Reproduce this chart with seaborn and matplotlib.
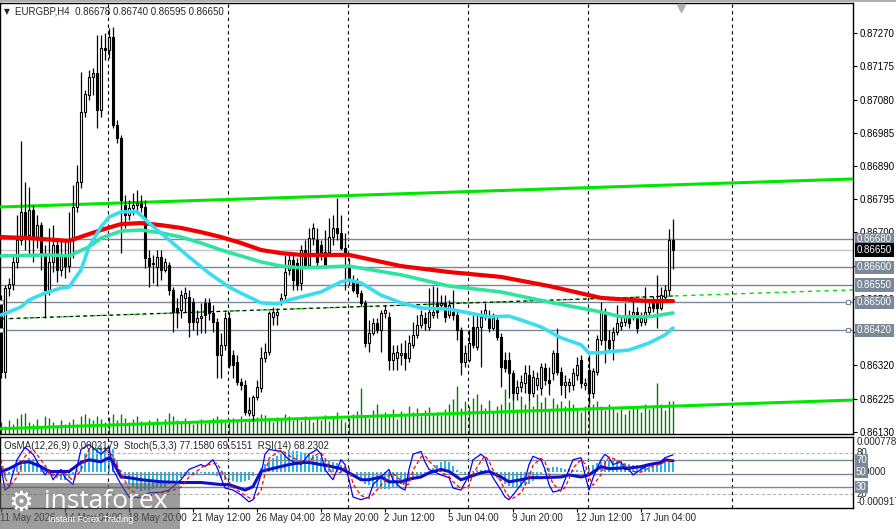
import numpy as np
import matplotlib
matplotlib.use('Agg')
import matplotlib.pyplot as plt
import matplotlib.transforms as mtransforms
from matplotlib.patches import Rectangle
import seaborn as sns

# EURGBP H4 candles, bar 0 = 11 May 2026 12:00
bar_open = [
    0.86507, 0.86301, 0.86541, 0.86553, 0.86616, 0.86679, 0.86759, 0.86693, 0.86764, 0.86684,
    0.86721, 0.86636, 0.86536, 0.86616, 0.86664, 0.86593, 0.86636, 0.86604, 0.86679, 0.86773,
    0.86844, 0.87044, 0.87093, 0.87144, 0.87156, 0.87050, 0.87227, 0.87221, 0.87259, 0.87007,
    0.86970, 0.86779, 0.86750, 0.86770, 0.86779, 0.86784, 0.86773, 0.86627, 0.86610, 0.86601,
    0.86630, 0.86593, 0.86607, 0.86536, 0.86484, 0.86479, 0.86513, 0.86516, 0.86501, 0.86444,
    0.86456, 0.86499, 0.86499, 0.86470, 0.86444, 0.86350, 0.86379, 0.86456, 0.86350, 0.86330,
    0.86273, 0.86264, 0.86184, 0.86179, 0.86230, 0.86256, 0.86341, 0.86359, 0.86459, 0.86464,
    0.86499, 0.86521, 0.86593, 0.86621, 0.86613, 0.86556, 0.86650, 0.86607, 0.86684, 0.86679,
    0.86664, 0.86644, 0.86644, 0.86687, 0.86713, 0.86699, 0.86656, 0.86607, 0.86564, 0.86556,
    0.86527, 0.86499, 0.86384, 0.86413, 0.86441, 0.86421, 0.86470, 0.86459, 0.86336, 0.86341,
    0.86350, 0.86356, 0.86341, 0.86379, 0.86407, 0.86436, 0.86456, 0.86430, 0.86464, 0.86499,
    0.86493, 0.86499, 0.86464, 0.86473, 0.86464, 0.86421, 0.86330, 0.86336, 0.86430, 0.86373,
    0.86430, 0.86459, 0.86456, 0.86427, 0.86450, 0.86401, 0.86336, 0.86336, 0.86299, 0.86241,
    0.86259, 0.86270, 0.86293, 0.86241, 0.86264, 0.86256, 0.86313, 0.86279, 0.86299, 0.86356,
    0.86301, 0.86264, 0.86264, 0.86264, 0.86293, 0.86336, 0.86264, 0.86307, 0.86241, 0.86301,
    0.86393, 0.86473, 0.86393, 0.86393, 0.86416, 0.86433, 0.86444, 0.86464, 0.86459, 0.86473,
    0.86444, 0.86444, 0.86473, 0.86507, 0.86507, 0.86484, 0.86516, 0.86536, 0.86678]
bar_close = [
    0.86301, 0.86541, 0.86553, 0.86616, 0.86679, 0.86759, 0.86693, 0.86764, 0.86684, 0.86721,
    0.86636, 0.86536, 0.86616, 0.86664, 0.86593, 0.86636, 0.86604, 0.86679, 0.86773, 0.86844,
    0.87044, 0.87096, 0.87144, 0.87156, 0.87050, 0.87227, 0.87221, 0.87259, 0.87007, 0.86970,
    0.86793, 0.86750, 0.86770, 0.86779, 0.86784, 0.86773, 0.86627, 0.86604, 0.86613, 0.86630,
    0.86593, 0.86616, 0.86536, 0.86473, 0.86473, 0.86521, 0.86527, 0.86444, 0.86444, 0.86456,
    0.86461, 0.86464, 0.86470, 0.86444, 0.86350, 0.86379, 0.86456, 0.86321, 0.86321, 0.86273,
    0.86264, 0.86187, 0.86193, 0.86230, 0.86259, 0.86341, 0.86359, 0.86470, 0.86473, 0.86473,
    0.86513, 0.86587, 0.86621, 0.86564, 0.86550, 0.86650, 0.86607, 0.86684, 0.86713, 0.86616,
    0.86636, 0.86607, 0.86687, 0.86713, 0.86699, 0.86656, 0.86636, 0.86564, 0.86536, 0.86527,
    0.86499, 0.86384, 0.86413, 0.86441, 0.86421, 0.86470, 0.86479, 0.86336, 0.86356, 0.86359,
    0.86356, 0.86341, 0.86384, 0.86407, 0.86436, 0.86464, 0.86441, 0.86473, 0.86473, 0.86473,
    0.86499, 0.86459, 0.86493, 0.86464, 0.86421, 0.86330, 0.86356, 0.86384, 0.86379, 0.86430,
    0.86459, 0.86479, 0.86427, 0.86456, 0.86401, 0.86316, 0.86313, 0.86299, 0.86241, 0.86259,
    0.86273, 0.86299, 0.86241, 0.86287, 0.86284, 0.86316, 0.86279, 0.86270, 0.86356, 0.86301,
    0.86264, 0.86273, 0.86273, 0.86299, 0.86321, 0.86270, 0.86270, 0.86241, 0.86304, 0.86396,
    0.86473, 0.86393, 0.86370, 0.86416, 0.86441, 0.86444, 0.86464, 0.86441, 0.86473, 0.86427,
    0.86456, 0.86473, 0.86487, 0.86484, 0.86484, 0.86521, 0.86536, 0.86679, 0.86650]
bar_high = [
    0.86521, 0.86550, 0.86570, 0.86636, 0.86750, 0.86961, 0.86844, 0.86830, 0.86779, 0.86750,
    0.86730, 0.86664, 0.86713, 0.86721, 0.86679, 0.86679, 0.86679, 0.86759, 0.86836, 0.86893,
    0.87159, 0.87107, 0.87164, 0.87170, 0.87264, 0.87264, 0.87270, 0.87284, 0.87287, 0.87021,
    0.86979, 0.86807, 0.86793, 0.86813, 0.86821, 0.86807, 0.86793, 0.86650, 0.86636, 0.86650,
    0.86650, 0.86627, 0.86616, 0.86544, 0.86513, 0.86536, 0.86544, 0.86536, 0.86513, 0.86479,
    0.86499, 0.86513, 0.86513, 0.86493, 0.86456, 0.86413, 0.86473, 0.86473, 0.86364, 0.86350,
    0.86284, 0.86279, 0.86230, 0.86236, 0.86279, 0.86373, 0.86384, 0.86476, 0.86487, 0.86484,
    0.86527, 0.86636, 0.86644, 0.86641, 0.86627, 0.86664, 0.86679, 0.86713, 0.86727, 0.86713,
    0.86679, 0.86707, 0.86741, 0.86750, 0.86799, 0.86750, 0.86699, 0.86627, 0.86579, 0.86570,
    0.86536, 0.86507, 0.86450, 0.86456, 0.86456, 0.86479, 0.86493, 0.86473, 0.86379, 0.86379,
    0.86384, 0.86393, 0.86407, 0.86444, 0.86464, 0.86479, 0.86473, 0.86541, 0.86547, 0.86544,
    0.86521, 0.86521, 0.86507, 0.86536, 0.86479, 0.86430, 0.86379, 0.86421, 0.86464, 0.86464,
    0.86479, 0.86499, 0.86479, 0.86470, 0.86464, 0.86413, 0.86359, 0.86359, 0.86307, 0.86279,
    0.86293, 0.86321, 0.86321, 0.86307, 0.86301, 0.86327, 0.86327, 0.86316, 0.86364, 0.86427,
    0.86316, 0.86293, 0.86284, 0.86313, 0.86344, 0.86350, 0.86284, 0.86350, 0.86313, 0.86407,
    0.86501, 0.86484, 0.86421, 0.86430, 0.86493, 0.86464, 0.86499, 0.86479, 0.86507, 0.86487,
    0.86473, 0.86544, 0.86507, 0.86519, 0.86579, 0.86544, 0.86550, 0.86710, 0.86740]
bar_low = [
    0.86284, 0.86284, 0.86519, 0.86536, 0.86599, 0.86664, 0.86650, 0.86636, 0.86616, 0.86656,
    0.86593, 0.86456, 0.86521, 0.86587, 0.86559, 0.86576, 0.86570, 0.86587, 0.86627, 0.86759,
    0.86827, 0.87030, 0.87079, 0.87093, 0.86999, 0.87030, 0.87193, 0.87199, 0.86999, 0.86956,
    0.86641, 0.86713, 0.86736, 0.86750, 0.86756, 0.86759, 0.86599, 0.86544, 0.86556, 0.86547,
    0.86564, 0.86587, 0.86521, 0.86416, 0.86427, 0.86456, 0.86473, 0.86401, 0.86421, 0.86407,
    0.86413, 0.86413, 0.86450, 0.86416, 0.86284, 0.86284, 0.86364, 0.86313, 0.86284, 0.86264,
    0.86250, 0.86179, 0.86176, 0.86161, 0.86221, 0.86244, 0.86330, 0.86350, 0.86436, 0.86436,
    0.86493, 0.86507, 0.86579, 0.86536, 0.86536, 0.86536, 0.86599, 0.86599, 0.86664, 0.86604,
    0.86621, 0.86599, 0.86636, 0.86664, 0.86679, 0.86650, 0.86536, 0.86550, 0.86530, 0.86516,
    0.86490, 0.86373, 0.86359, 0.86407, 0.86413, 0.86359, 0.86456, 0.86307, 0.86307, 0.86307,
    0.86321, 0.86307, 0.86330, 0.86370, 0.86399, 0.86427, 0.86421, 0.86421, 0.86456, 0.86456,
    0.86484, 0.86444, 0.86456, 0.86450, 0.86393, 0.86293, 0.86316, 0.86330, 0.86370, 0.86364,
    0.86316, 0.86450, 0.86416, 0.86421, 0.86393, 0.86259, 0.86301, 0.86227, 0.86221, 0.86221,
    0.86244, 0.86241, 0.86221, 0.86230, 0.86250, 0.86236, 0.86264, 0.86236, 0.86279, 0.86293,
    0.86236, 0.86227, 0.86244, 0.86250, 0.86279, 0.86256, 0.86250, 0.86213, 0.86227, 0.86293,
    0.86379, 0.86327, 0.86359, 0.86336, 0.86407, 0.86421, 0.86433, 0.86427, 0.86450, 0.86413,
    0.86433, 0.86436, 0.86464, 0.86473, 0.86427, 0.86479, 0.86507, 0.86521, 0.86595]
tick_volume = [
    1200, 800, 1400, 1000, 1600, 2000, 2100, 1200, 1000, 1500, 800, 1800, 1600, 1200, 900,
    1400, 1000, 1200, 1500, 1000, 1800, 2000, 1600, 1400, 1800, 1500, 1200, 1700, 2000, 1400,
    2000, 1600, 1200, 1500, 1800, 1300, 1000, 1400, 1200, 1600, 900, 1500, 2100, 1800, 1400,
    1100, 1600, 1300, 1000, 1200, 1500, 1100, 1400, 1600, 1800, 1500, 1200, 1300, 1600, 1400,
    1800, 1200, 1600, 1500, 1700, 2000, 1900, 1400, 1200, 1700, 1500, 2000, 1800, 1400, 1600,
    1300, 1800, 1500, 1200, 1600, 1400, 1900, 1300, 1700, 2200, 1500, 1200, 1600, 2000, 2300,
    4600, 1800, 1600, 2400, 3000, 2000, 2200, 1800, 2500, 1500, 2300, 2000, 2800, 2200, 2600,
    1800, 2400, 2700, 2000, 2200, 1900, 2500, 3000, 3500, 4800, 2600, 3300, 2800, 3600, 4000,
    3000, 2600, 3400, 2200, 2800, 3000, 4500, 3200, 4000, 2500, 3800, 3000, 3500, 2800, 4000,
    3200, 3700, 2500, 3600, 3000, 3300, 2800, 3400, 3000, 2600, 2200, 2800, 3500, 3000, 3300,
    2800, 2400, 3000, 2600, 2200, 2500, 2000, 2400, 2800, 2600, 2200, 3000, 2500, 2800, 5100,
    3000, 2400, 3300, 3300]

# moving averages at some bars
ma_red_bars = [0, 7, 17, 25, 30, 35, 40, 45, 50, 55, 60, 65, 70, 75, 87, 100, 112, 125, 137, 150, 162, 168]
ma_red = [0.86687, 0.86684, 0.86676, 0.86707, 0.86724, 0.86727, 0.86721, 0.86713, 0.86701, 0.86687, 0.86670,
          0.86650, 0.86641, 0.86636, 0.86636, 0.86604, 0.86587, 0.86573, 0.86547, 0.86513, 0.86504, 0.86504]
ma_teal_bars = [0, 12, 17, 22, 25, 30, 35, 40, 45, 50, 55, 60, 65, 70, 75, 87, 100, 112, 125, 137, 150, 155, 162, 168]
ma_teal = [0.86633, 0.86636, 0.86633, 0.86659, 0.86684, 0.86704, 0.86707, 0.86699, 0.86687, 0.86670, 0.86650,
           0.86633, 0.86616, 0.86604, 0.86599, 0.86604, 0.86579, 0.86547, 0.86530, 0.86501, 0.86473, 0.86459,
           0.86459, 0.86470]
ma_cyan_bars = [0, 2, 5, 7, 11, 15, 17, 20, 22, 25, 27, 30, 34, 37, 42, 47, 52, 57, 61, 65, 69, 72, 75, 80,
                85, 87, 90, 95, 100, 105, 112, 117, 122, 127, 130, 135, 140, 145, 147, 150, 152, 157, 162, 166, 168]
ma_cyan = [0.86464, 0.86473, 0.86487, 0.86507, 0.86527, 0.86541, 0.86544, 0.86593, 0.86659, 0.86716, 0.86744,
           0.86759, 0.86759, 0.86727, 0.86679, 0.86630, 0.86584, 0.86544, 0.86521, 0.86499, 0.86496, 0.86507,
           0.86516, 0.86530, 0.86559, 0.86564, 0.86556, 0.86521, 0.86499, 0.86484, 0.86481, 0.86470, 0.86459,
           0.86461, 0.86450, 0.86430, 0.86399, 0.86379, 0.86356, 0.86356, 0.86359, 0.86364, 0.86384, 0.86407,
           0.86427]

# channel lines (price at left and right edge)
channel_bars = [-0.25, 213]
channel_top = [0.86773, 0.86853]
channel_mid = [0.86453, 0.86536]
channel_bottom = [0.86139, 0.86221]

level_prices = [0.86680, 0.86600, 0.86550, 0.86500, 0.86420]
bid_price = 0.86650

# OsMA(12,26,9), one value per bar
osma = [
    -0.00010, -0.00015, -0.00008, 0.00005, 0.00015, 0.00025, 0.00030, 0.00035, 0.00032, 0.00028,
    0.00018, 0.00008, -0.00005, -0.00010, -0.00015, -0.00018, -0.00020, -0.00015, -0.00008, 0.00005,
    0.00030, 0.00045, 0.00055, 0.00060, 0.00058, 0.00062, 0.00060, 0.00058, 0.00055, 0.00030,
    0.00005, -0.00015, -0.00030, -0.00038, -0.00042, -0.00045, -0.00043, -0.00045, -0.00040, -0.00038,
    -0.00036, -0.00035, -0.00030, -0.00025, -0.00022, -0.00015, -0.00010, -0.00008, -0.00005, -0.00004,
    -0.00003, -0.00004, -0.00005, -0.00006, -0.00010, -0.00015, -0.00018, -0.00020, -0.00022, -0.00024,
    -0.00025, -0.00022, -0.00018, -0.00010, 0.00000, 0.00010, 0.00020, 0.00028, 0.00035, 0.00040,
    0.00045, 0.00048, 0.00050, 0.00052, 0.00050, 0.00048, 0.00047, 0.00045, 0.00042, 0.00040,
    0.00035, 0.00030, 0.00028, 0.00025, 0.00022, 0.00018, 0.00012, 0.00005, 0.00000, -0.00010,
    -0.00020, -0.00028, -0.00032, -0.00035, -0.00038, -0.00040, -0.00042, -0.00040, -0.00038, -0.00035,
    -0.00030, -0.00028, -0.00025, -0.00020, -0.00015, -0.00012, -0.00010, -0.00008, 0.00010, 0.00018,
    0.00025, 0.00028, 0.00025, 0.00015, 0.00005, -0.00003, -0.00005, -0.00003, 0.00002, 0.00005,
    0.00006, 0.00004, 0.00000, -0.00008, -0.00015, -0.00022, -0.00028, -0.00033, -0.00036, -0.00036,
    -0.00035, -0.00032, -0.00028, -0.00022, -0.00015, -0.00008, 0.00005, 0.00010, 0.00012, 0.00012,
    0.00010, 0.00008, 0.00008, 0.00006, 0.00005, 0.00003, 0.00005, 0.00010, 0.00018, 0.00022,
    0.00025, 0.00028, 0.00028, 0.00027, 0.00026, 0.00024, 0.00022, 0.00020, 0.00018, 0.00018,
    0.00017, 0.00018, 0.00018, 0.00019, 0.00020, 0.00024, 0.00027, 0.00030, 0.00022]

# Stochastic(5,3,3) and RSI(14), read at some bars
stoch_bars = [0, 1, 2, 4, 6, 8, 11, 12, 13, 15, 16, 18, 20, 22, 25, 27, 28, 30, 32, 35, 37, 40, 42, 45, 47,
              50, 51, 53, 54, 56, 58, 60, 62, 63, 65, 66, 67, 70, 72, 75, 77, 79, 80, 81, 82, 83, 85, 86,
              87, 88, 90, 92, 93, 95, 97, 98, 100, 101, 102, 103, 105, 106, 107, 110, 112, 113, 115, 117,
              118, 120, 121, 122, 123, 125, 126, 127, 128, 130, 131, 132, 133, 135, 136, 137, 138, 140,
              141, 142, 143, 145, 146, 147, 148, 150, 151, 152, 153, 155, 156, 157, 158, 160, 161, 162,
              163, 165, 166, 168]
stoch_main = [60, 26, 30, 70, 88, 78, 48, 56, 41, 56, 44, 34, 85, 92, 78, 89, 56, 34, 16, 15, 22, 23, 26, 41,
              56, 63, 60, 70, 59, 29, 26, 19, 9, 12, 48, 78, 85, 82, 70, 63, 78, 85, 78, 56, 48, 41, 70, 63,
              41, 16, 12, 16, 34, 45, 56, 41, 29, 26, 56, 78, 82, 67, 56, 48, 44, 29, 26, 48, 70, 78, 73, 56,
              44, 26, 16, 12, 19, 34, 41, 63, 75, 70, 56, 34, 23, 26, 41, 56, 70, 73, 48, 26, 44, 70, 78, 73,
              63, 67, 56, 56, 48, 56, 59, 63, 63, 67, 73, 77.16]
stoch_signal = [70, 45, 30, 45, 75, 85, 62, 52, 48, 48, 50, 40, 55, 85, 85, 82, 75, 50, 28, 16, 17, 22, 24, 30,
                45, 58, 62, 64, 65, 45, 30, 22, 15, 12, 25, 50, 72, 84, 76, 67, 68, 78, 80, 72, 58, 48, 52, 60,
                58, 35, 18, 14, 20, 33, 48, 50, 40, 32, 35, 55, 74, 76, 68, 52, 46, 38, 28, 32, 50, 68, 76, 68,
                55, 38, 25, 16, 14, 22, 32, 45, 62, 72, 67, 50, 35, 24, 30, 42, 58, 70, 64, 45, 33, 48, 65, 74,
                72, 66, 62, 58, 53, 52, 55, 58, 61, 64, 67, 69.52]
rsi_bars = [0, 2, 5, 7, 10, 12, 15, 17, 20, 22, 25, 27, 28, 30, 32, 35, 40, 45, 50, 55, 57, 61, 63, 65, 67,
            72, 75, 77, 80, 82, 85, 87, 90, 92, 95, 97, 100, 102, 105, 107, 110, 112, 115, 117, 120, 122,
            125, 127, 130, 132, 135, 140, 142, 145, 147, 150, 152, 155, 157, 160, 162, 165, 166, 168]
rsi = [53, 57, 66, 67, 60, 53, 53, 53, 66, 70, 67, 73, 67, 45, 44, 41, 38, 37, 37, 34, 34, 26, 31, 53, 56,
       63, 66, 66, 63, 61, 57, 51, 41, 41, 45, 38, 38, 42, 45, 51, 56, 53, 41, 45, 51, 53, 45, 38, 41, 44,
       44, 45, 48, 45, 48, 60, 57, 58, 58, 60, 63, 66, 70, 68.23]

# time axis labels (bar index, text)
label_bars = [0, 16, 32, 48, 64, 80, 96, 112, 128, 144, 160]
label_text = ['11 May 2026', '14 May 04:00', '18 May 20:00', '21 May 12:00', '26 May 04:00', '28 May 20:00',
              '2 Jun 12:00', '5 Jun 04:00', '9 Jun 20:00', '12 Jun 12:00', '17 Jun 04:00']
grid_bars = [26.75, 56.75, 86.75, 116.75, 146.75, 182.75]

W, H = 896, 529
SLATE = '#7b8898'
FONT = 7


def px_x(x):
    return x / W


def px_y(y):
    return 1 - y / H


def draw_candles(ax, o, h, l, c):
    o, h, l, c = map(np.asarray, (o, h, l, c))
    x = np.arange(len(o))
    ax.vlines(x, l, h, color='black', lw=0.9, zorder=4)
    up = c >= o
    lo = np.minimum(o, c)
    hgt = np.maximum(np.abs(c - o), 0.000012)
    ax.bar(x[up], hgt[up], bottom=lo[up], width=0.6, color='white', edgecolor='black', lw=0.8, zorder=5)
    ax.bar(x[~up], hgt[~up], bottom=lo[~up], width=0.6, color='black', edgecolor='black', lw=0.8, zorder=5)


def price_box(ax, price, text, fc, tc='white'):
    trans = mtransforms.blended_transform_factory(ax.transAxes, ax.transData)
    ax.text(1.0045, price, text, transform=trans, ha='left', va='center', fontsize=FONT, color=tc,
            bbox=dict(boxstyle='square,pad=0.2', fc=fc, ec='none'), clip_on=False, zorder=30)


sns.set_style('white')
plt.rcParams['font.family'] = ['Liberation Sans', 'DejaVu Sans']

fig = plt.figure(figsize=(W / 100, H / 100), dpi=100)
ax = fig.add_axes([0, px_y(434), px_x(853), (434 - 3) / H])
ind = fig.add_axes([0, px_y(508), px_x(853), (508 - 437) / H])

# ---- main price panel ----
vax = ax.twinx()
vax.vlines(np.arange(len(tick_volume)), 0, tick_volume, color='#008000', lw=1)
vax.set_ylim(0, 43100)
vax.set_yticks([])
ax.set_zorder(vax.get_zorder() + 1)
ax.patch.set_visible(False)

for gb in grid_bars:
    ax.axvline(gb, color='black', ls=(0, (3, 3)), lw=0.8, zorder=1)

for p in level_prices:
    ax.axhline(p, color=SLATE, lw=1, zorder=2)
ax.axhline(bid_price, color='#c4c4c4', lw=1, zorder=2)
for p in [0.86500, 0.86420]:
    ax.plot([0, 211.7], [p, p], ls='none', marker='s', ms=3.5, mfc='white', mec=SLATE, mew=0.8,
            clip_on=False, zorder=6)

sns.lineplot(x=channel_bars, y=channel_top, ax=ax, color='#00e600', linewidth=2.2, zorder=3)
sns.lineplot(x=channel_bars, y=channel_bottom, ax=ax, color='#00e600', linewidth=2.2, zorder=3)
ax.plot(channel_bars, channel_mid, color='#00dd00', lw=1, ls=(0, (3, 3)), zorder=3)
ax.plot([-0.25, 168], np.interp([-0.25, 168], channel_bars, channel_mid), color='black', lw=0.8,
        ls=(3, (3, 3)), zorder=3)

sns.lineplot(x=ma_red_bars, y=ma_red, ax=ax, color='#f00000', linewidth=3, zorder=6)
sns.lineplot(x=ma_teal_bars, y=ma_teal, ax=ax, color='#2fe3a1', linewidth=2.6, zorder=6)
sns.lineplot(x=ma_cyan_bars, y=ma_cyan, ax=ax, color='#3adcef', linewidth=2.6, zorder=6)

draw_candles(ax, bar_open, bar_high, bar_low, bar_close)

ax.set_xlim(-0.25, 213)
ax.set_ylim(0.86124, 0.87356)
ax.set_xticks([])
ax.yaxis.tick_right()
yt = [0.87270 - k * 0.00095 for k in range(13)]
ax.set_yticks(yt)
ax.set_yticklabels(['%.5f' % v for v in yt])
ax.tick_params(axis='y', direction='out', length=3, width=0.8, pad=2, labelsize=FONT, colors='black')
ax.set_ylabel('')
for s in ax.spines.values():
    s.set_color('black')
    s.set_linewidth(1)
for s in vax.spines.values():
    s.set_visible(False)

for p in level_prices:
    price_box(ax, p, '%.5f' % p, SLATE)
price_box(ax, bid_price, '%.5f' % bid_price, 'black')

# ---- indicator panel ----
oax = ind.twinx()
oax.bar(np.arange(len(osma)), osma, width=0.7, color='#29b6e8', lw=0)
oax.set_ylim(-0.00087, 0.00085)
oax.set_yticks([])
ind.set_zorder(oax.get_zorder() + 1)
ind.patch.set_visible(False)
for s in oax.spines.values():
    s.set_visible(False)

for gb in grid_bars:
    ind.axvline(gb, color='black', ls=(0, (3, 3)), lw=0.8, zorder=1)
for lv in [80, 20]:
    ind.axhline(lv, color='#b4b4b4', lw=0.8, ls=(0, (3, 2)), zorder=1)
for lv in [70, 50, 30]:
    ind.axhline(lv, color=SLATE, lw=1, zorder=1)

sns.lineplot(x=rsi_bars, y=rsi, ax=ind, color='#1010c8', linewidth=2.2, zorder=4)
sns.lineplot(x=stoch_bars, y=stoch_main, ax=ind, color='#0000ff', linewidth=0.9, zorder=5)
ind.plot(stoch_bars, stoch_signal, color='#ff0000', lw=0.9, ls=(0, (3, 2)), zorder=5)

ind.set_xlim(-0.25, 213)
ind.set_ylim(0, 103)
ind.set_yticks([])
ind.set_ylabel('')
ind.set_xticks(label_bars)
ind.set_xticklabels([])
ind.tick_params(axis='x', direction='out', length=3, width=0.8, bottom=True, colors='black')
for s in ind.spines.values():
    s.set_color('black')
    s.set_linewidth(1)

ind.text(0.005, 0.88, 'OsMA(12,26,9) 0.0002179  Stoch(5,3,3) 77.1580 69.5151  RSI(14) 68.2302',
         transform=ind.transAxes, fontsize=FONT, va='center', ha='left', zorder=8)

# right side labels of the indicator window
fig.text(px_x(857), px_y(442), '0.0007782', fontsize=FONT, va='center', ha='left')
fig.text(px_x(857), px_y(453), '80', fontsize=FONT, va='center', ha='left')
fig.text(px_x(857), px_y(472), '0.0000', fontsize=FONT, va='center', ha='left')
fig.text(px_x(857), px_y(494), '20', fontsize=FONT, va='center', ha='left')
fig.text(px_x(857), px_y(502), '-0.000917', fontsize=FONT, va='center', ha='left')
for lv, yy in [(70, 460), (50, 472), (30, 487)]:
    fig.text(px_x(856), px_y(yy), str(lv), fontsize=FONT, va='center', ha='left', color='white',
             bbox=dict(boxstyle='square,pad=0.15', fc=SLATE, ec='none'), zorder=6)

# time labels
for b, t in zip(label_bars, label_text):
    fig.text(px_x(4 * b), px_y(518), t, fontsize=FONT, va='center', ha='left')

# header
fig.text(px_x(4), px_y(12), '\u25bc', fontsize=5.5, va='center', ha='left', family='DejaVu Sans')
fig.text(px_x(15), px_y(12), 'EURGBP,H4  0.86678 0.86740 0.86595 0.86650', fontsize=FONT,
         va='center', ha='left')
fig.add_artist(plt.Line2D([0, 1], [px_y(0.5), px_y(0.5)], color='#a0a0a0', lw=1.2))
ax.plot([170], [0.87343], marker='v', ms=6, color='#b0b0b0', clip_on=False, zorder=7)

# watermark
fig.add_artist(Rectangle((0, 0), px_x(180), 46 / H, transform=fig.transFigure,
                         facecolor='#5c5c5c', alpha=0.6, edgecolor='none', zorder=10))
fig.text(px_x(21), px_y(503), '\u2699', fontsize=20, color='white', ha='center', va='center',
         family='DejaVu Sans', zorder=11)
fig.text(px_x(44), px_y(502), 'instaforex', fontsize=19, color='white', ha='left', va='center',
         family='Open Sans', zorder=11)
fig.text(px_x(48), px_y(520), 'Instant Forex Trading', fontsize=6.5, color='white', ha='left',
         va='center', zorder=11)

fig.savefig('out.png', dpi=100)
